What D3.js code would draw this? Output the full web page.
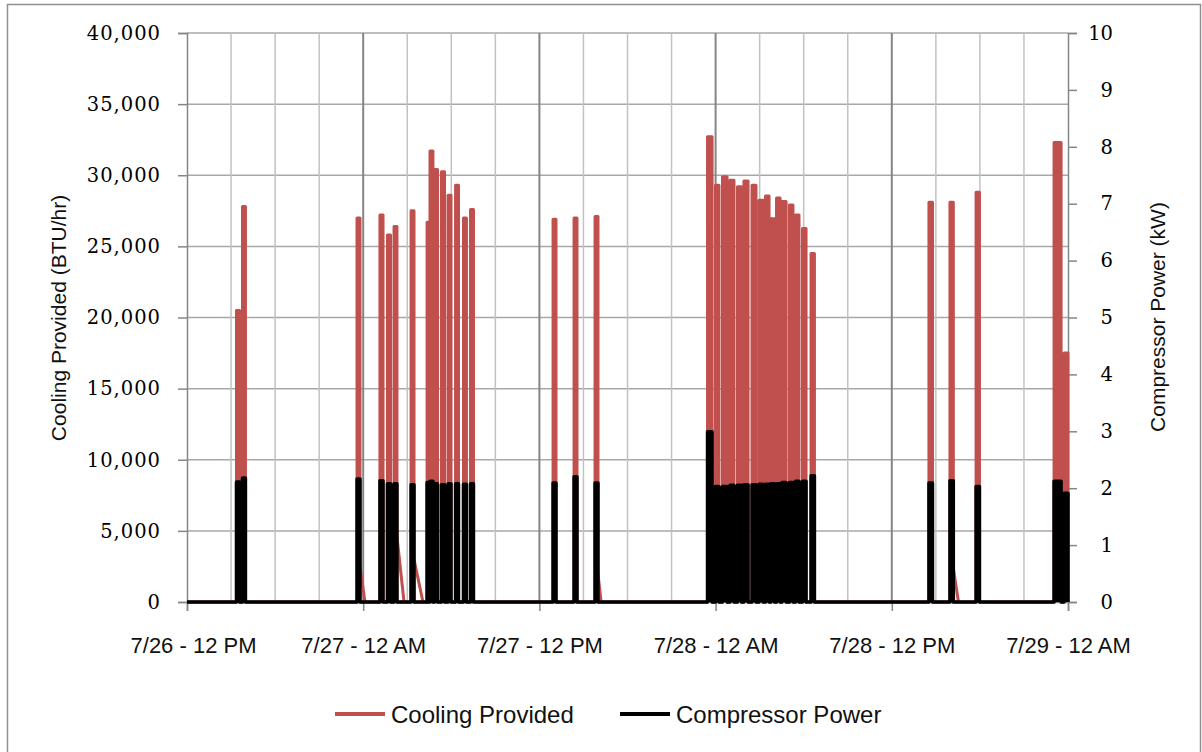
<!DOCTYPE html>
<html lang="en">
<head>
<meta charset="utf-8">
<script src="https://cdn.jsdelivr.net/npm/d3@7"></script>
<style>
  body { margin: 0; background: #fff; }
  svg { display: block; }
  .num { font-family: "DejaVu Serif", serif; font-size: 19.5px; fill: #000; }
  .lbl { font-family: "Liberation Sans", Arial, sans-serif; fill: #111; }
</style>
</head>
<body>
<div id="chart"></div>
<script>
    // hours since 7/26 12 PM, one entry per compressor cycle
    const onHour  = [3.37, 3.78, 11.58, 13.14, 13.65, 14.10, 15.26, 16.35, 16.55, 16.86, 17.33, 17.78, 18.29, 18.83, 19.31,
                     24.93, 26.36, 27.79,
                     35.45, 35.99, 36.47, 36.98, 37.49, 37.93, 38.48, 38.96, 39.40, 39.77, 40.15, 40.52, 41.03, 41.44, 41.92, 42.50,
                     50.53, 51.96, 53.74, 59.05, 59.73];
    const offHour = [3.58, 3.98, 11.78, 13.35, 13.86, 14.30, 15.46, 16.52, 16.75, 17.06, 17.54, 17.98, 18.49, 19.03, 19.51,
                     25.13, 26.56, 27.99,
                     35.76, 36.23, 36.78, 37.25, 37.76, 38.21, 38.75, 39.23, 39.64, 40.01, 40.39, 40.80, 41.27, 41.68, 42.16, 42.73,
                     50.77, 52.19, 53.97, 59.53, 60.00];
    // peak cooling in BTU/hr
    const coolingPeak = [20500, 27800, 27000, 27200, 25800, 26400, 27500, 26700, 31700, 30400, 30250, 28600, 29300, 27000, 27600,
                         26900, 27000, 27100,
                         32700, 29300, 29900, 29650, 29200, 29600, 29300, 28250, 28550, 26950, 28400, 28150, 27900, 27200, 26250, 24500,
                         28100, 28100, 28800, 32300, 17500];
    // compressor power in kW
    const compressorKW = [2.11, 2.18, 2.16, 2.13, 2.08, 2.08, 2.06, 2.10, 2.12, 2.08, 2.06, 2.08, 2.08, 2.07, 2.08,
                          2.09, 2.20, 2.09,
                          2.99, 2.03, 2.03, 2.05, 2.05, 2.06, 2.06, 2.07, 2.07, 2.08, 2.08, 2.10, 2.10, 2.12, 2.12, 2.22,
                          2.09, 2.13, 2.03, 2.12, 1.91];
    // cooling that lingers after the compressor stops: [cycle, BTU/hr at stop, hour it reaches 0]
    const coolingTails = [[2, 2500, 12.12], [5, 4600, 14.78], [6, 3000, 16.07], [17, 2000, 28.20], [35, 2400, 52.54]];

    const xTickHours = [0, 12, 24, 36, 48, 60];
    const xTickLabels = ["7/26 - 12 PM", "7/27 - 12 AM", "7/27 - 12 PM", "7/28 - 12 AM", "7/28 - 12 PM", "7/29 - 12 AM"];
    const yTicks = [0, 5000, 10000, 15000, 20000, 25000, 30000, 35000, 40000];
    const y2Ticks = [0, 1, 2, 3, 4, 5, 6, 7, 8, 9, 10];

    // build the two series as point lists
    const cooling = [[0, 0]];
    const power = [[0, 0]];
    onHour.forEach((t0, i) => {
        const t1 = offHour[i];
        cooling.push([t0, 0], [t0, coolingPeak[i]], [t1, coolingPeak[i]], [t1, 0]);
        power.push([t0, 0], [t0, compressorKW[i]], [t1, compressorKW[i]], [t1, 0]);
    });
    cooling.push([60, 0]);
    power.push([60, 0]);
    const tails = coolingTails.map(c => [[offHour[c[0]], c[1]], [c[2], 0]]);

    const width = 1202, height = 752;
    const plotLeft = 187, plotRight = 1068, plotTop = 33, plotBottom = 602;

    const svg = d3.select("#chart").append("svg")
        .attr("width", width)
        .attr("height", height);

    svg.append("rect")
        .attr("x", 7.5).attr("y", 4.5)
        .attr("width", 1193).attr("height", 780)
        .attr("fill", "#fff")
        .attr("stroke", "#8f8f8f")
        .attr("stroke-width", 1.5);

    const x = d3.scaleLinear().domain([0, 60]).range([plotLeft, plotRight]);
    const y = d3.scaleLinear().domain([0, 40000]).range([plotBottom, plotTop]);
    const y2 = d3.scaleLinear().domain([0, 10]).range([plotBottom, plotTop]);

    // gridlines
    const grid = svg.append("g");
    grid.selectAll(".hgrid")
        .data(yTicks.filter(d => d > 0))
        .enter().append("line")
        .attr("x1", plotLeft).attr("x2", plotRight)
        .attr("y1", d => y(d)).attr("y2", d => y(d))
        .attr("stroke", "#a8a8a8")
        .attr("stroke-width", 1.5);

    grid.selectAll(".vgrid")
        .data(d3.range(3, 60, 3))
        .enter().append("line")
        .attr("x1", d => x(d)).attr("x2", d => x(d))
        .attr("y1", plotTop).attr("y2", plotBottom)
        .attr("stroke", d => d % 12 === 0 ? "#858585" : "#c2c2c2")
        .attr("stroke-width", d => d % 12 === 0 ? 2 : 1.5);

    // axes
    const yAxis = svg.append("g")
        .attr("transform", `translate(${plotLeft},0)`)
        .call(d3.axisLeft(y).tickValues(yTicks).tickSize(9).tickPadding(17).tickFormat(d3.format(",")));

    const y2Axis = svg.append("g")
        .attr("transform", `translate(${plotRight},0)`)
        .call(d3.axisRight(y2).tickValues(y2Ticks).tickSize(9).tickPadding(36).tickFormat(d3.format("d")));
    y2Axis.selectAll("text").attr("text-anchor", "end");

    const xAxis = svg.append("g")
        .attr("transform", `translate(0,${plotBottom})`)
        .call(d3.axisBottom(x).tickValues(xTickHours).tickSize(9).tickPadding(26)
            .tickFormat((d, i) => xTickLabels[i]));

    [yAxis, y2Axis, xAxis].forEach(a => {
        a.select(".domain").attr("stroke", "#868686").attr("stroke-width", 1.5);
        a.selectAll(".tick line").attr("stroke", "#868686").attr("stroke-width", 1.5);
    });
    yAxis.selectAll("text").attr("class", "num").style("letter-spacing", "1px");
    y2Axis.selectAll("text").attr("class", "num");
    xAxis.selectAll("text").attr("class", "lbl").style("font-size", "22px");
    xAxis.select(".tick text").attr("dx", 6);

    // series
    const line = yScale => d3.line()
        .x(d => x(d[0]))
        .y(d => yScale(d[1]));

    svg.append("path")
        .datum(cooling)
        .attr("d", line(y))
        .attr("fill", "#c0504d")
        .attr("stroke", "#c0504d")
        .attr("stroke-width", 3)
        .attr("stroke-linejoin", "round");

    svg.selectAll(".tail")
        .data(tails)
        .enter().append("path")
        .attr("d", line(y))
        .attr("fill", "none")
        .attr("stroke", "#c0504d")
        .attr("stroke-width", 3);

    svg.append("path")
        .datum(power)
        .attr("d", line(y2))
        .attr("fill", "#000")
        .attr("stroke", "#000")
        .attr("stroke-width", 3.5)
        .attr("stroke-linejoin", "round");

    // axis titles
    svg.append("text")
        .attr("class", "lbl")
        .attr("transform", "translate(58,318) rotate(-90)")
        .attr("text-anchor", "middle")
        .attr("dominant-baseline", "central")
        .style("font-size", "21px")
        .text("Cooling Provided (BTU/hr)");

    svg.append("text")
        .attr("class", "lbl")
        .attr("transform", "translate(1157,317) rotate(-90)")
        .attr("text-anchor", "middle")
        .attr("dominant-baseline", "central")
        .style("font-size", "21px")
        .text("Compressor Power (kW)");

    // legend
    const legendItems = [
        { name: "Cooling Provided", color: "#c0504d", x: 335 },
        { name: "Compressor Power", color: "#000", x: 620 }
    ];
    const legend = svg.append("g").attr("transform", "translate(0,714)");
    legendItems.forEach(item => {
        legend.append("line")
            .attr("x1", item.x).attr("x2", item.x + 50)
            .attr("stroke", item.color)
            .attr("stroke-width", 4);
        legend.append("text")
            .attr("class", "lbl")
            .attr("x", item.x + 56)
            .attr("dominant-baseline", "central")
            .style("font-size", "24px")
            .text(item.name);
    });
</script>
</body>
</html>
